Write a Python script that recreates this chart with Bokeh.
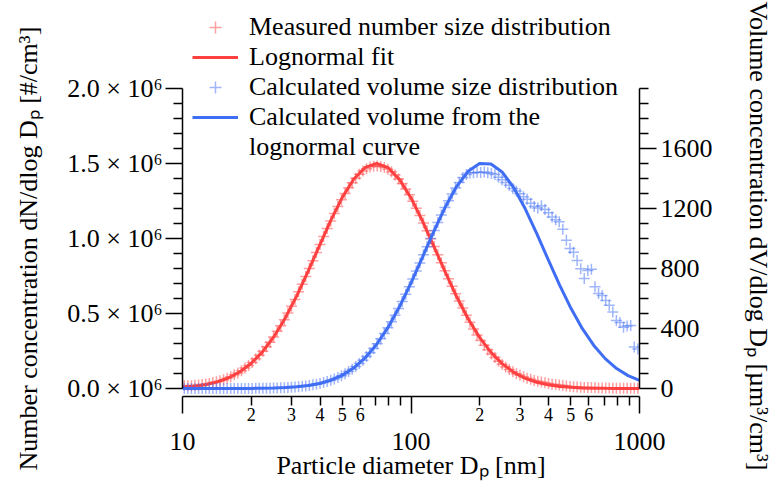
from bokeh.plotting import figure
from bokeh.models import (LinearAxis, LogAxis, FixedTicker, Range1d, Legend, LegendItem, Title)
from bokeh.embed import file_html
from bokeh.resources import INLINE

FONT = "Liberation Serif"
RED = "#ff4040"
BLUE = "#3f6ef5"

# ---------------- data ----------------
# SMPS channel mid-point diameters [nm]
diameter_nm = [
    10.18, 10.55, 10.94, 11.34, 11.76, 12.19, 12.64, 13.10, 13.58, 14.08,
    14.59, 15.13, 15.68, 16.26, 16.85, 17.47, 18.11, 18.77, 19.46, 20.18,
    20.92, 21.68, 22.48, 23.30, 24.16, 25.04, 25.96, 26.91, 27.90, 28.92,
    29.98, 31.08, 32.22, 33.40, 34.62, 35.89, 37.21, 38.57, 39.98, 41.45,
    42.97, 44.54, 46.18, 47.87, 49.62, 51.44, 53.33, 55.28, 57.31, 59.41,
    61.59, 63.85, 66.19, 68.61, 71.13, 73.73, 76.44, 79.24, 82.14, 85.15,
    88.28, 91.51, 94.87, 98.34,
    101.8, 105.5, 109.4, 113.4, 117.6, 121.9, 126.4, 131.0, 135.8, 140.8,
    145.9, 151.3, 156.8, 162.6, 168.5, 174.7, 181.1, 187.7, 194.6, 201.8,
    209.2, 216.8, 224.8, 233.0, 241.6, 250.4, 259.6, 269.1, 279.0, 289.2,
    299.8, 310.8, 322.2, 334.0, 346.2, 358.9, 372.1, 385.7, 399.8, 414.5,
    429.7, 445.4, 461.8, 478.7, 496.2, 514.4, 533.3, 552.8, 573.1, 594.1,
    615.9, 638.5, 661.9, 686.1, 711.3, 737.3, 764.4, 792.4, 821.4, 851.5,
    882.8, 915.1, 948.7, 983.4,
]

# measured dN/dlogDp  [x 10^6 #/cm3]
number_measured = [
    0.020, 0.018, 0.019, 0.022, 0.024, 0.027, 0.030, 0.034, 0.040, 0.045,
    0.051, 0.059, 0.068, 0.079, 0.091, 0.104, 0.118, 0.136, 0.154, 0.174,
    0.198, 0.221, 0.249, 0.278, 0.309, 0.343, 0.381, 0.418, 0.459, 0.503,
    0.548, 0.594, 0.645, 0.695, 0.746, 0.800, 0.852, 0.906, 0.960, 1.013,
    1.066, 1.116, 1.167, 1.214, 1.258, 1.300, 1.338, 1.372, 1.402, 1.428,
    1.450, 1.465, 1.476, 1.482, 1.484, 1.480, 1.474, 1.462, 1.445, 1.424,
    1.397, 1.366, 1.330, 1.291, 1.248, 1.202, 1.154, 1.104, 1.052, 0.999,
    0.946, 0.892, 0.838, 0.785, 0.732, 0.681, 0.631, 0.583, 0.537, 0.488,
    0.441, 0.397, 0.357, 0.320, 0.288, 0.258, 0.230, 0.206, 0.182, 0.162,
    0.143, 0.127, 0.112, 0.099, 0.088, 0.078, 0.069, 0.061, 0.053, 0.048,
    0.043, 0.038, 0.034, 0.029, 0.026, 0.023, 0.020, 0.017, 0.014, 0.012,
    0.010, 0.009, 0.007, 0.007, 0.006, 0.005, 0.004, 0.004, 0.003, 0.003,
    0.002, 0.002, 0.001, 0.001, 0.001, 0.001, 0.001, 0.001,
]

# calculated dV/dlogDp  [um3/cm3]
volume_measured = [
    0.0, 0.0, 0.0, 0.0, 0.0, 0.0, 0.0, 0.0, 0.0, 0.0,
    0.1, 0.1, 0.1, 0.2, 0.2, 0.3, 0.4, 0.5, 0.6, 0.8,
    1.0, 1.3, 1.6, 2.0, 2.4, 2.9, 3.7, 4.5, 5.5, 6.7,
    8.2, 9.8, 11.9, 14.3, 17.2, 20.4, 24.3, 28.8, 34.0, 40.0,
    46.9, 54.7, 63.7, 73.9, 85.4, 98.4, 112.8, 129.0, 147.0, 166.9,
    188.8, 212.8, 239.0, 267.4, 298.3, 331.4, 367.0, 405.0, 445.3, 487.9,
    532.6, 579.4, 628.1, 678.3, 730.1, 783.1, 836.6, 891.0, 945.4, 999.6,
    1053, 1106, 1157, 1206, 1252, 1296, 1337, 1374, 1406, 1426,
    1436, 1439, 1442, 1440, 1444, 1438, 1434, 1426, 1408, 1392,
    1373, 1355, 1334, 1317, 1298, 1279, 1261, 1235, 1214, 1204,
    1219, 1193, 1172, 1143, 1125, 1112, 1062, 989, 934, 908,
    853, 798, 733, 787, 795, 678, 633, 620, 586, 555,
    510, 454, 440, 408, 417, 420, 277, 264,
]

# lognormal fit curves
fit_diameter_nm = [
    10.0, 11.22, 12.59, 14.13, 15.85, 17.78, 19.95, 22.39, 25.12, 28.18,
    31.62, 35.48, 39.81, 44.67, 50.12, 56.23, 63.10, 70.79, 79.43, 89.13,
    100.0, 112.2, 125.9, 141.3, 158.5, 177.8, 199.5, 223.9, 251.2, 281.8,
    316.2, 354.8, 398.1, 446.7, 501.2, 562.3, 631.0, 707.9, 794.3, 891.3,
    1000.0,
]
number_fit = [
    0.0079, 0.0143, 0.0252, 0.0427, 0.0698, 0.1100, 0.1670, 0.2445, 0.3456, 0.4705,
    0.6177, 0.7821, 0.9549, 1.1243, 1.2761, 1.3966, 1.4741, 1.5000, 1.4719, 1.3926,
    1.2705, 1.1177, 0.9480, 0.7753, 0.6115, 0.4650, 0.3410, 0.2411, 0.1643, 0.1080,
    0.0685, 0.0418, 0.0247, 0.0140, 0.0077, 0.0040, 0.0021, 0.0010, 0.0005, 0.0002,
    0.0001,
]
volume_fit = [
    0.0, 0.01, 0.03, 0.06, 0.16, 0.35, 0.73, 1.53, 3.0, 5.9,
    10.9, 19.4, 33.4, 55.6, 89.1, 137.7, 205.3, 295.1, 408.9, 546.4,
    704.0, 874.5, 1047.7, 1210.2, 1348.0, 1447.7, 1499.3, 1497.1, 1441.4, 1338.1,
    1198.1, 1034.2, 860.6, 690.8, 534.6, 398.9, 287.0, 199.1, 133.2, 85.9,
    53.5,
]

# axis ticks / labels
left_ticks = [0.0, 0.5, 1.0, 1.5, 2.0]
left_labels = ["0.0 × 10⁶", "0.5 × 10⁶", "1.0 × 10⁶", "1.5 × 10⁶", "2.0 × 10⁶"]
left_minor = [0.1, 0.2, 0.3, 0.4, 0.6, 0.7, 0.8, 0.9, 1.1, 1.2, 1.3, 1.4, 1.6, 1.7, 1.8, 1.9]
right_ticks = [0, 400, 800, 1200, 1600]
right_minor = [100, 200, 300, 500, 600, 700, 900, 1000, 1100, 1300, 1400, 1500,
               1700, 1800, 1900, 2000]
x_decades = [10, 100, 1000]
x_decade_labels = ["10", "100", "1000"]
x_minor = [20, 30, 40, 50, 60, 70, 80, 90, 200, 300, 400, 500, 600, 700, 800, 900]
x_small_ticks = [20, 30, 40, 50, 60, 200, 300, 400, 500, 600]
x_small_labels = ["2", "3", "4", "5", "6", "2", "3", "4", "5", "6"]

TITLE_LEFT = "Number concentration dN/dlog Dₚ  [#/cm³]"
TITLE_RIGHT = "Volume concentration dV/dlog Dₚ [µm³/cm³]"
TITLE_BOTTOM = "Particle diameter Dₚ [nm]"

# ---------------- figure ----------------
# the frame spans the whole upper area so that the legend is not clipped;
# 150 px per 1e6 on the left, 6.667 um3/cm3 per px on the right
Y_LEFT = (-0.0533, 2.5867)
Y_RIGHT = (-53.33, 2586.7)

p = figure(
    x_axis_type="log", x_range=Range1d(10, 1000), y_range=Range1d(*Y_LEFT),
    frame_width=457, frame_height=396,
    min_border_left=182, min_border_right=137, min_border_top=0, min_border_bottom=92,
    x_axis_location=None, y_axis_location=None,
    toolbar_location=None, output_backend="svg",
)
p.outline_line_color = None
p.background_fill_color = "white"
p.border_fill_color = "white"
p.grid.visible = False
p.extra_y_ranges = {"v": Range1d(*Y_RIGHT)}


def style_axis(ax, major_out=17, minor_out=9, size="26px"):
    ax.axis_line_color = "black"
    ax.axis_line_width = 1.5
    ax.major_tick_line_color = "black"
    ax.major_tick_line_width = 1.5
    ax.minor_tick_line_color = "black"
    ax.minor_tick_line_width = 1.5
    ax.major_tick_in = 0
    ax.minor_tick_in = 0
    ax.major_tick_out = major_out
    ax.minor_tick_out = minor_out
    ax.major_label_text_font = FONT
    ax.major_label_text_font_size = size
    ax.major_label_text_color = "black"
    ax.axis_label_text_font = FONT
    ax.axis_label_text_font_size = "26px"
    ax.axis_label_text_font_style = "normal"
    ax.axis_label_text_color = "black"


def spacer(width, range_name, at):
    # an invisible axis that only reserves horizontal room
    return LinearAxis(y_range_name=range_name,
                      ticker=FixedTicker(ticks=[at], minor_ticks=[]),
                      major_label_overrides={at: ""},
                      axis_line_color=None, major_tick_line_color=None,
                      minor_tick_line_color=None, major_tick_in=0, minor_tick_in=0,
                      major_tick_out=width, minor_tick_out=0, major_label_standoff=0)


def side_title(text, offset):
    return Title(text=text, align="left", offset=offset, standoff=0,
                 text_font=FONT, text_font_size="26px", text_font_style="normal",
                 text_color="black")


# left axis
yl = LinearAxis(
    ticker=FixedTicker(ticks=left_ticks, minor_ticks=left_minor),
    major_label_overrides=dict(zip(left_ticks, left_labels)),
    bounds=(0, 2.0),
)
style_axis(yl)
yl.major_label_standoff = 3
p.add_layout(yl, "left")
p.add_layout(spacer(22, "default", 1.0), "left")
p.add_layout(side_title(TITLE_LEFT, -74), "left")

# right axis
yr = LinearAxis(
    y_range_name="v",
    ticker=FixedTicker(ticks=right_ticks, minor_ticks=right_minor),
    bounds=(0, 2000),
)
style_axis(yr)
yr.major_label_standoff = 4
p.add_layout(yr, "right")
p.add_layout(spacer(28, "v", 1000), "right")
p.add_layout(side_title(TITLE_RIGHT, 1), "right")

# bottom axis: decades with long ticks, and the axis title
xa = LogAxis(
    ticker=FixedTicker(ticks=x_decades, minor_ticks=x_minor),
    major_label_overrides=dict(zip(x_decades, x_decade_labels)),
    bounds=(10, 1000),
    axis_label=TITLE_BOTTOM,
)
style_axis(xa, major_out=17, minor_out=9)
xa.major_label_standoff = 19
xa.axis_label_standoff = -2
p.add_layout(xa, "below")

# small 2..6 labels, pulled up right under the short ticks
xs = LogAxis(
    ticker=FixedTicker(ticks=x_small_ticks, minor_ticks=[]),
    major_label_overrides=dict(zip(x_small_ticks, x_small_labels)),
)
style_axis(xs, major_out=0, minor_out=0, size="18px")
xs.axis_line_color = None
xs.major_tick_line_color = None
xs.minor_tick_line_color = None
xs.major_label_standoff = -75
p.add_layout(xs, "below")

# ---------------- glyphs ----------------
r_np = p.scatter(diameter_nm, number_measured, marker="cross", size=11,
                 line_color=RED, line_alpha=0.5, line_width=1.5)
r_nf = p.line(fit_diameter_nm, number_fit, line_color=RED, line_width=3)
r_vp = p.scatter(diameter_nm, volume_measured, y_range_name="v", marker="cross", size=11,
                 line_color=BLUE, line_alpha=0.5, line_width=1.5)
r_vf = p.line(fit_diameter_nm, volume_fit, y_range_name="v", line_color=BLUE, line_width=3)
r_blank = p.line(fit_diameter_nm, volume_fit, y_range_name="v", line_alpha=0)

legend = Legend(
    items=[
        LegendItem(label="Measured number size distribution", renderers=[r_np]),
        LegendItem(label="Lognormal fit", renderers=[r_nf]),
        LegendItem(label="Calculated volume size distribution", renderers=[r_vp]),
        LegendItem(label="Calculated volume from the", renderers=[r_vf]),
        LegendItem(label="lognormal curve", renderers=[r_blank]),
    ],
    location=(10, 234),
    glyph_width=46, glyph_height=30, label_standoff=11, spacing=0,
    padding=0, margin=0,
    label_text_font=FONT, label_text_font_size="26px", label_text_color="black",
    border_line_color=None, background_fill_alpha=0,
)
p.add_layout(legend, "center")

open("out.html", "w").write(file_html(p, INLINE))
